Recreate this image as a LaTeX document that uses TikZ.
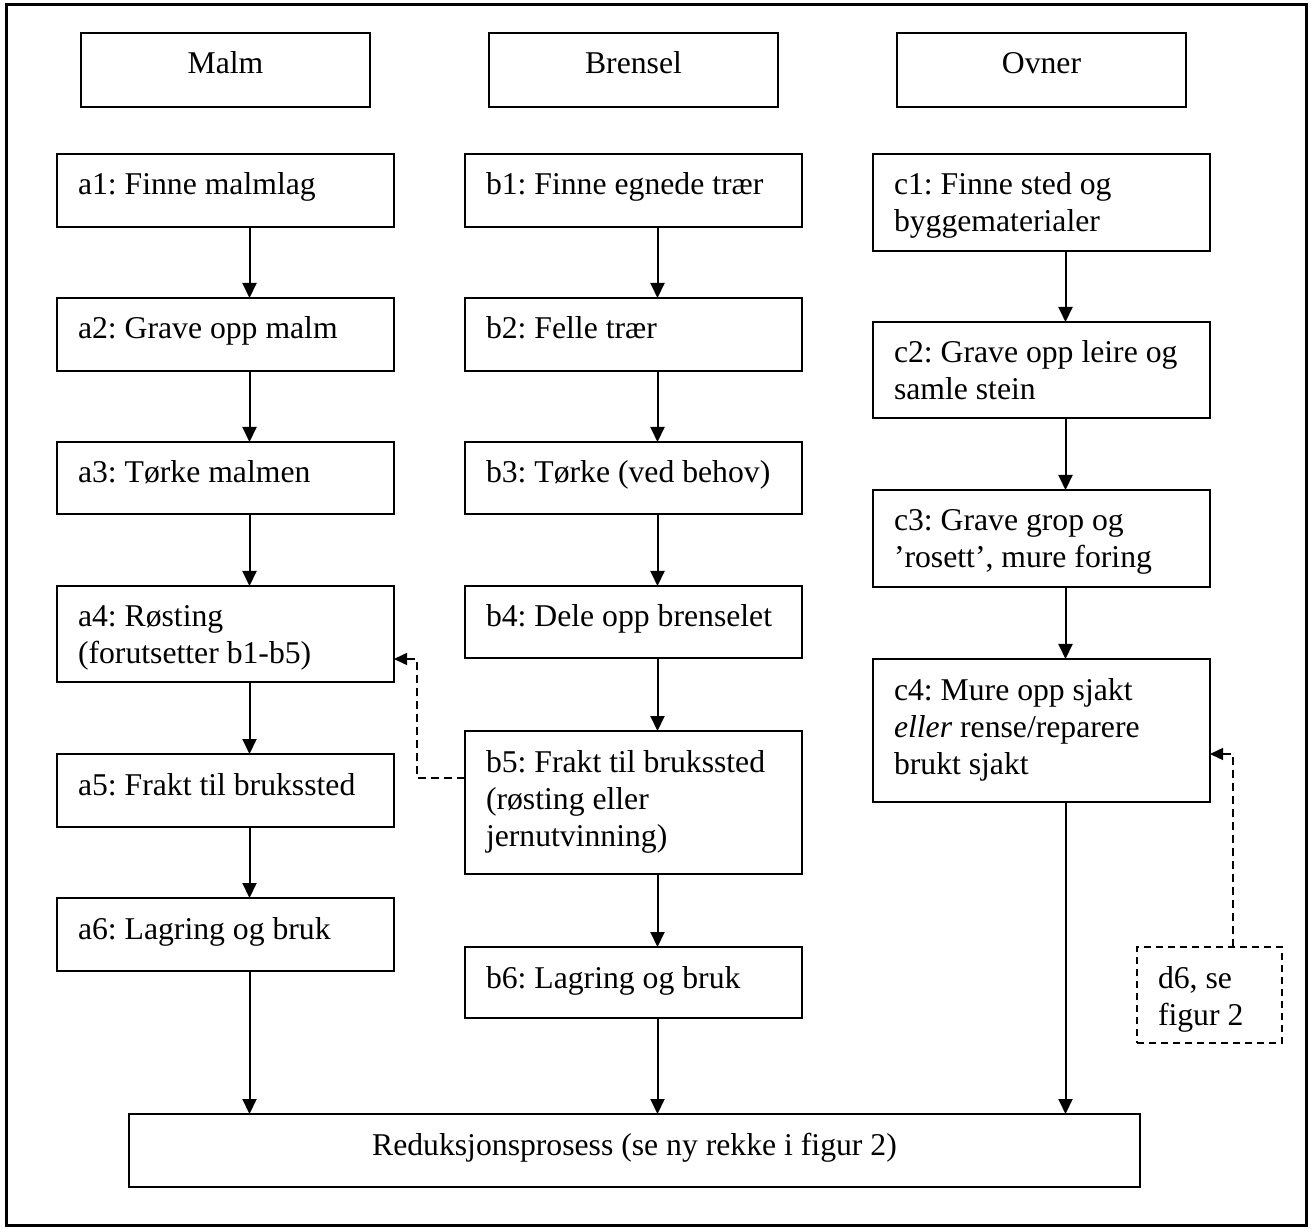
\documentclass[tikz,border=0pt]{standalone}
\usepackage{fontspec}
\setmainfont{Liberation Serif}
\usetikzlibrary{arrows.meta}
\frenchspacing
\newcommand{\btxt}[3]{\parbox[c][#2][t]{#1}{\raggedright\rule{0pt}{20.5pt}#3}}
\newcommand{\ctxt}[3]{\parbox[c][#2][t]{#1}{\centering\rule{0pt}{20.5pt}#3}}
\begin{document}
\begin{tikzpicture}[x=0.5pt,y=-0.5pt,
  stepbox/.style={draw, line width=0.75pt, inner xsep=10.5pt, inner ysep=0pt, outer sep=0pt,
    anchor=north west, font=\fontsize{15.85pt}{18.5pt}\selectfont},
  dashbox/.style={stepbox, dash pattern=on 3.5pt off 2.5pt},
  arr/.style={line width=1pt, -{Triangle[length=7.5pt,width=7pt]}},
  darr/.style={line width=0.75pt, dash pattern=on 4pt off 2.5pt, -{Triangle[length=6.5pt,width=6pt]}}]
\useasboundingbox (0,0) rectangle (1312,1229);
\draw[line width=1.5pt] (6,5) rectangle (1306,1225);

% headers
\node[stepbox] (malm) at (81,33) {\ctxt{123.5pt}{37pt}{Malm}};
\node[stepbox] (brensel) at (489,33) {\ctxt{123.5pt}{37pt}{Brensel}};
\node[stepbox] (ovner) at (897,33) {\ctxt{123.5pt}{37pt}{Ovner}};

% column a
\node[stepbox] (a1) at (57,154) {\btxt{147.5pt}{36.5pt}{a1: Finne malmlag}};
\node[stepbox] (a2) at (57,298) {\btxt{147.5pt}{36.5pt}{a2: Grave opp malm}};
\node[stepbox] (a3) at (57,442) {\btxt{147.5pt}{36pt}{a3: Tørke malmen}};
\node[stepbox] (a4) at (57,586) {\btxt{147.5pt}{48pt}{a4: Røsting\\(forutsetter b1-b5)}};
\node[stepbox] (a5) at (57,754) {\btxt{147.5pt}{36.5pt}{a5: Frakt til brukssted}};
\node[stepbox] (a6) at (57,898) {\btxt{147.5pt}{36.5pt}{a6: Lagring og bruk}};

% column b
\node[stepbox] (b1) at (465,154) {\btxt{147.5pt}{36.5pt}{b1: Finne egnede trær}};
\node[stepbox] (b2) at (465,298) {\btxt{147.5pt}{36.5pt}{b2: Felle trær}};
\node[stepbox] (b3) at (465,442) {\btxt{147.5pt}{36pt}{b3: Tørke (ved behov)}};
\node[stepbox] (b4) at (465,586) {\btxt{147.5pt}{36pt}{b4: Dele opp brenselet}};
\node[stepbox] (b5) at (465,731) {\btxt{147.5pt}{71.5pt}{b5: Frakt til brukssted\\(røsting eller\\jernutvinning)}};
\node[stepbox] (b6) at (465,947) {\btxt{147.5pt}{35.5pt}{b6: Lagring og bruk}};

% column c
\node[stepbox] (c1) at (873,154) {\btxt{147.5pt}{48.5pt}{c1: Finne sted og\\byggematerialer}};
\node[stepbox] (c2) at (873,322) {\btxt{147.5pt}{48pt}{c2: Grave opp leire og\\samle stein}};
\node[stepbox] (c3) at (873,490) {\btxt{147.5pt}{48.5pt}{c3: Grave grop og\\’rosett’, mure foring}};
\node[stepbox] (c4) at (873,659) {\btxt{147.5pt}{71.5pt}{c4: Mure opp sjakt\\\textit{eller} rense/reparere\\brukt sjakt}};

\node[dashbox] (d6) at (1137,947) {\btxt{51.5pt}{48pt}{d6, se\\figur 2}};

\node[stepbox] (red) at (129,1114) {\ctxt{484.5pt}{36.5pt}{Reduksjonsprosess (se ny rekke i figur 2)}};

% solid arrows
\foreach \u/\v in {a1/a2,a2/a3,a3/a4,a4/a5,a5/a6,b1/b2,b2/b3,b3/b4,b4/b5,b5/b6,c1/c2,c2/c3,c3/c4}
  \draw[arr] ([xshift=12pt]\u.south) -- ([xshift=12pt]\v.north);
\foreach \u in {a6,b6,c4}
  \draw[arr] ([xshift=12pt]\u.south) -- ([xshift=12pt]\u.south |- red.north);

% dashed arrows
\coordinate (ka) at (417,659);
\draw[darr] ([yshift=-23.5pt]b5.north west) -| (ka) -- (ka -| a4.east);
\coordinate (kc) at (1233,754);
\draw[darr] (d6.north -| kc) -- (kc) -- (kc -| c4.east);
\end{tikzpicture}
\end{document}
